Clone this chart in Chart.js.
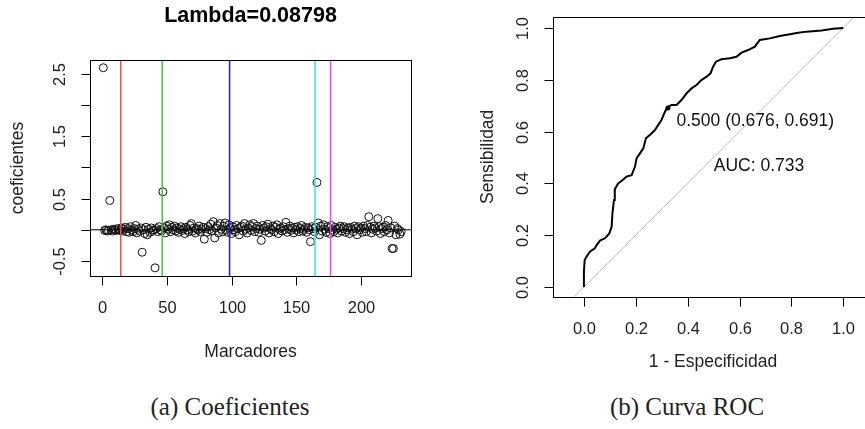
<!DOCTYPE html>
<html>
<head>
<meta charset="utf-8">
<script src="https://cdn.jsdelivr.net/npm/chart.js@4"></script>
<style>
body { margin:0; background:#fff; width:865px; height:429px; overflow:hidden; position:relative; }
.panel { position:absolute; top:0; overflow:hidden; }
.caption { position:absolute; font-family:"Liberation Serif", serif; font-size:25px; color:#222; white-space:nowrap; transform:translateX(-50%); }
</style>
</head>
<body>
<div class="panel" style="left:0;width:440px;height:380px"><canvas id="coefChart" width="440" height="380"></canvas></div>
<div class="panel" style="left:470px;width:395px;height:380px"><canvas id="rocChart" width="420" height="380"></canvas></div>
<div class="caption" style="left:230px;top:393px">(a) Coeficientes</div>
<div class="caption" style="left:687px;top:393px">(b) Curva ROC</div>
<script>
// coefficients per marker (index 1..231)
const coefs = [
  2.60, -0.01, 0.00, -0.02, -0.01, 0.47, 0.00, -0.02, 0.01, 0.00, -0.01, 0.02, 0.00, -0.01, 0.03, -0.02, 0.01, 0.04, -0.03, 0.02,
  -0.04, 0.05, 0.00, -0.03, 0.02, 0.07, -0.05, 0.01, -0.02, 0.03, -0.36, 0.00, -0.06, 0.04, -0.08, 0.01, -0.04, 0.03, -0.02, 0.00,
  -0.61, 0.02, -0.03, 0.05, 0.00, -0.02, 0.61, 0.03, -0.05, 0.06, 0.01, 0.08, -0.03, 0.04, 0.00, 0.06, -0.02, 0.03, -0.04, 0.01,
  0.05, -0.01, 0.02, -0.06, 0.04, 0.00, -0.03, 0.07, 0.10, -0.02, 0.03, -0.05, 0.02, 0.00, 0.06, -0.03, 0.01, 0.04, -0.15, 0.02,
  -0.04, 0.05, 0.00, 0.09, -0.02, 0.13, -0.13, 0.03, 0.07, -0.05, 0.10, 0.01, -0.03, 0.06, 0.11, 0.00, -0.04, 0.08, 0.02, -0.06,
  0.05, 0.00, -0.03, 0.07, 0.02, -0.08, 0.04, 0.06, -0.02, 0.10, 0.01, -0.05, 0.03, 0.08, -0.01, 0.05, 0.10, -0.03, 0.02, 0.06,
  -0.04, 0.01, -0.17, 0.07, 0.03, -0.02, 0.05, 0.09, -0.05, 0.02, 0.00, 0.06, -0.03, 0.04, 0.08, -0.06, 0.01, 0.03, -0.02, 0.05,
  0.00, 0.12, -0.04, 0.02, 0.06, -0.01, 0.03, -0.05, 0.04, 0.00, 0.05, -0.03, 0.02, 0.07, -0.02, 0.01, 0.04, -0.04, 0.03, 0.00,
  -0.19, 0.05, 0.02, -0.03, 0.04, 0.76, 0.11, -0.08, 0.06, -0.02, 0.08, 0.01, -0.04, 0.05, 0.02, -0.06, 0.07, 0.00, -0.03, 0.04,
  0.01, -0.05, 0.03, 0.06, -0.02, 0.02, 0.05, -0.04, 0.00, 0.03, -0.06, 0.04, 0.01, -0.03, 0.06, 0.02, -0.08, 0.05, 0.00, 0.03,
  -0.04, 0.06, 0.02, -0.03, 0.07, 0.21, 0.04, -0.05, 0.01, 0.06, 0.03, -0.02, 0.18, 0.05, -0.06, 0.02, 0.04, -0.03, 0.07, 0.00,
  0.15, -0.05, 0.03, -0.30, -0.30, 0.06, -0.08, 0.02, 0.00, -0.07, -0.03
];
const groupBreaks = [14.5, 46.5, 98.5, 164.5, 176.5];
const breakColors = ["#f24a4a", "#3ccb3c", "#1a1ae8", "#2ee8e8", "#ee45ee"];
const coefXTicks = [0, 50, 100, 150, 200];
const coefYTicks = [-0.5, 0, 0.5, 1, 1.5, 2, 2.5];
const coefYLabels = ["-0.5", "", "0.5", "", "1.5", "", "2.5"];
const coefTitle = "Lambda=0.08798";

// ROC curve (1 - specificity, sensitivity)
const rocFpr = [0, 0, 0.003, 0.01, 0.023, 0.042, 0.049, 0.062, 0.081, 0.098, 0.107, 0.11, 0.116, 0.119, 0.132,
  0.145, 0.164, 0.184, 0.197, 0.203, 0.216, 0.229, 0.239, 0.254, 0.274, 0.286, 0.299, 0.310, 0.321, 0.338,
  0.357, 0.376, 0.396, 0.415, 0.434, 0.453, 0.473, 0.488, 0.498, 0.509, 0.530, 0.563, 0.588, 0.608, 0.633,
  0.659, 0.678, 0.717, 0.755, 0.794, 0.826, 0.858, 0.916, 0.961, 1.0];
const rocTpr = [0, 0.06, 0.104, 0.117, 0.136, 0.149, 0.162, 0.179, 0.188, 0.207, 0.233, 0.285, 0.336, 0.377, 0.400,
  0.409, 0.426, 0.432, 0.465, 0.497, 0.516, 0.535, 0.574, 0.587, 0.606, 0.625, 0.645, 0.671, 0.694, 0.703,
  0.703, 0.722, 0.748, 0.767, 0.780, 0.799, 0.812, 0.825, 0.851, 0.870, 0.879, 0.883, 0.889, 0.905, 0.915,
  0.928, 0.954, 0.960, 0.969, 0.976, 0.982, 0.986, 0.990, 0.997, 1.0];
const bestPoint = [0.324, 0.691];
const bestLabel = "0.500 (0.676, 0.691)";
const aucLabel = "AUC: 0.733";
const rocTicks = [0, 0.2, 0.4, 0.6, 0.8, 1.0];
const rocTickLabels = ["0.0", "0.2", "0.4", "0.6", "0.8", "1.0"];

const FONT = '"Liberation Sans", Arial, sans-serif';
const INK = "#222";

// R style box, ticks and labels drawn from the chart scales
function rAxes(cfg) {
  return {
    id: "rAxes",
    afterDraw(chart) {
      const ctx = chart.ctx, a = chart.chartArea;
      const xs = chart.scales.x, ys = chart.scales.y;
      const L = Math.round(a.left) + 0.5, T = Math.round(a.top) + 0.5;
      const R = Math.round(a.right) + 0.5, B = Math.round(a.bottom) + 0.5;
      ctx.save();
      ctx.strokeStyle = "#000";
      ctx.lineWidth = 1;
      ctx.strokeRect(L, T, R - L, B - T);
      ctx.fillStyle = INK;
      ctx.font = "16.5px " + FONT;
      ctx.textAlign = "center";
      ctx.textBaseline = "middle";
      // x ticks
      ctx.beginPath();
      cfg.xTicks.forEach((v, i) => {
        const px = Math.round(xs.getPixelForValue(v)) + 0.5;
        ctx.moveTo(px, B); ctx.lineTo(px, B + 9);
        ctx.fillText(cfg.xLabels[i], px, B + 32);
      });
      // y ticks
      cfg.yTicks.forEach((v, i) => {
        const py = Math.round(ys.getPixelForValue(v)) + 0.5;
        ctx.moveTo(L, py); ctx.lineTo(L - 9, py);
        if (cfg.yLabels[i]) {
          ctx.save();
          ctx.translate(L - 30, py);
          ctx.rotate(-Math.PI / 2);
          ctx.fillText(cfg.yLabels[i], 0, 0);
          ctx.restore();
        }
      });
      ctx.stroke();
      // axis titles
      ctx.font = "17.5px " + FONT;
      ctx.fillText(cfg.xTitle, cfg.xTitleX || (a.left + a.right) / 2, B + cfg.xTitleGap);
      ctx.save();
      ctx.translate(L - cfg.yTitleGap, (a.top + a.bottom) / 2);
      ctx.rotate(-Math.PI / 2);
      ctx.fillText(cfg.yTitle, 0, 0);
      ctx.restore();
      if (cfg.title) {
        ctx.font = "bold 21.5px " + FONT;
        ctx.fillStyle = "#000";
        ctx.fillText(cfg.title, (a.left + a.right) / 2, 16);
      }
      if (cfg.notes) {
        ctx.font = "17.5px " + FONT;
        ctx.fillStyle = "#111";
        cfg.notes.forEach(n => {
          ctx.textAlign = n.align;
          ctx.fillText(n.text, xs.getPixelForValue(n.x), ys.getPixelForValue(n.y));
        });
      }
      ctx.restore();
    }
  };
}

const lineDs = (pts, color, width) => ({
  type: "line", data: pts, borderColor: color, borderWidth: width,
  pointRadius: 0, fill: false, tension: 0
});

// left chart: coefficients
const coefDatasets = groupBreaks.map((b, i) =>
  lineDs([{ x: b, y: -2 }, { x: b, y: 4 }], breakColors[i], 1.5));
coefDatasets.push(lineDs([{ x: -30, y: 0 }, { x: 270, y: 0 }], "#000", 1));
coefDatasets.push({
  type: "scatter",
  data: coefs.map((v, i) => ({ x: i + 1, y: v })),
  pointStyle: "circle", pointRadius: 4, borderColor: "#111",
  borderWidth: 1, backgroundColor: "rgba(0,0,0,0)"
});

new Chart(document.getElementById("coefChart"), {
  type: "scatter",
  data: { datasets: coefDatasets },
  options: {
    responsive: false, animation: false,
    layout: { padding: { left: 90, top: 60, right: 29, bottom: 104 } },
    plugins: { legend: { display: false }, tooltip: { enabled: false } },
    scales: {
      x: { type: "linear", display: false, min: -9.27, max: 238.6 },
      y: { type: "linear", display: false, min: -0.741, max: 2.724 }
    }
  },
  plugins: [rAxes({
    xTicks: coefXTicks, xLabels: coefXTicks.map(String),
    yTicks: coefYTicks, yLabels: coefYLabels,
    xTitle: "Marcadores", xTitleGap: 76,
    yTitle: "coeficientes", yTitleGap: 72,
    title: coefTitle
  })]
});

// right chart: ROC
new Chart(document.getElementById("rocChart"), {
  type: "scatter",
  data: {
    datasets: [
      {
        type: "scatter", data: [{ x: bestPoint[0], y: bestPoint[1] }],
        pointRadius: 2.5, backgroundColor: "#000", borderColor: "#000", borderWidth: 0
      },
      lineDs(rocFpr.map((v, i) => ({ x: v, y: rocTpr[i] })), "#000", 2),
      lineDs([{ x: -0.3, y: -0.3 }, { x: 1.3, y: 1.3 }], "#bdbdbd", 1)
    ]
  },
  options: {
    responsive: false, animation: false,
    layout: { padding: { left: 83.3, top: 17, right: 14, bottom: 83.3 } },
    plugins: { legend: { display: false }, tooltip: { enabled: false } },
    scales: {
      x: { type: "linear", display: false, min: -0.118, max: 1.126 },
      y: { type: "linear", display: false, min: -0.0375, max: 1.0425 }
    }
  },
  plugins: [rAxes({
    xTicks: rocTicks, xLabels: rocTickLabels,
    yTicks: rocTicks, yLabels: rocTickLabels,
    xTitle: "1 - Especificidad", xTitleGap: 65, xTitleX: 713 - 470,
    yTitle: "Sensibilidad", yTitleGap: 65,
    notes: [
      { text: bestLabel, x: 0.357, y: 0.642, align: "left" },
      { text: aucLabel, x: 0.675, y: 0.468, align: "center" }
    ]
  })]
});
</script>
</body>
</html>
